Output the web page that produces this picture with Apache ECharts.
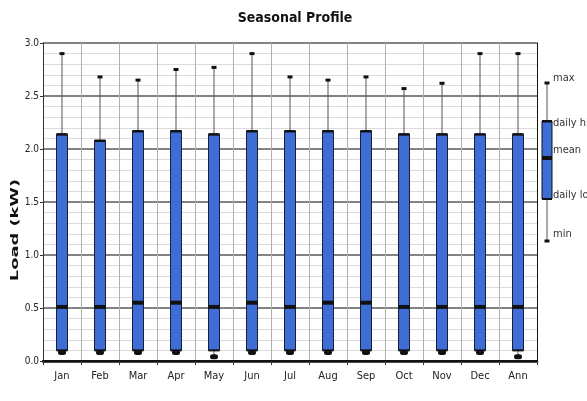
<!DOCTYPE html>
<html>
<head>
<meta charset="utf-8">
<script src="https://cdn.jsdelivr.net/npm/echarts@6/dist/echarts.min.js"></script>
<style>
  html, body { margin: 0; padding: 0; background: #fff; }
  #chart { width: 587px; height: 401px; }
</style>
</head>
<body>
<div id="chart"></div>
<script>
// seasonal load profile, kW
var months = ["Jan", "Feb", "Mar", "Apr", "May", "Jun", "Jul", "Aug", "Sep", "Oct", "Nov", "Dec", "Ann"];
var maxVals = [2.90, 2.68, 2.65, 2.75, 2.77, 2.90, 2.68, 2.65, 2.68, 2.57, 2.62, 2.90, 2.90];
var highVals = [2.14, 2.08, 2.17, 2.17, 2.14, 2.17, 2.17, 2.17, 2.17, 2.14, 2.14, 2.14, 2.14];
var meanVals = [0.51, 0.51, 0.55, 0.55, 0.51, 0.55, 0.51, 0.55, 0.55, 0.51, 0.51, 0.51, 0.51];
var lowVals = [0.10, 0.10, 0.10, 0.10, 0.10, 0.10, 0.10, 0.10, 0.10, 0.10, 0.10, 0.10, 0.10];
var minVals = [0.08, 0.08, 0.08, 0.08, 0.04, 0.08, 0.08, 0.08, 0.08, 0.08, 0.08, 0.08, 0.04];
var yTicks = [0, 0.5, 1.0, 1.5, 2.0, 2.5, 3.0];
var legendLabels = ["max", "daily high", "mean", "daily low", "min"];

var FONT = "'Liberation Sans Narrow', 'DejaVu Sans Condensed', 'Liberation Sans', sans-serif";
var BLUE = "#3f6dd6";

var boxData = months.map(function (m, i) {
  return [i, minVals[i], lowVals[i], meanVals[i], highVals[i], maxVals[i]];
});

function renderBox(params, api) {
  var idx = api.value(0);
  var x = api.coord([idx, 0])[0];
  var yMin = api.coord([idx, api.value(1)])[1];
  var yLow = api.coord([idx, api.value(2)])[1];
  var yMean = api.coord([idx, api.value(3)])[1];
  var yHigh = api.coord([idx, api.value(4)])[1];
  var yMax = api.coord([idx, api.value(5)])[1];
  var w = 11;
  return {
    type: "group",
    children: [
      { type: "line", shape: { x1: x, y1: yMax, x2: x, y2: yHigh }, style: { stroke: "#555", lineWidth: 1 } },
      { type: "line", shape: { x1: x, y1: yLow, x2: x, y2: yMin }, style: { stroke: "#555", lineWidth: 1 } },
      { type: "rect", shape: { x: x - 2.5, y: yMax - 1.5, width: 5, height: 3 }, style: { fill: "#111" } },
      { type: "rect", shape: { x: x - w / 2, y: yHigh, width: w, height: yLow - yHigh }, style: { fill: BLUE, stroke: "#1a1f3a", lineWidth: 1 } },
      { type: "rect", shape: { x: x - w / 2, y: yHigh - 1, width: w, height: 2.5 }, style: { fill: "#111" } },
      { type: "rect", shape: { x: x - w / 2, y: yMean - 2, width: w, height: 4 }, style: { fill: "#111" } },
      { type: "rect", shape: { x: x - w / 2, y: yLow - 1, width: w, height: 2 }, style: { fill: "#111" } },
      { type: "rect", shape: { x: x - 4, y: yMin - 2.5, width: 8, height: 5, r: 2.5 }, style: { fill: "#111" } }
    ]
  };
}

// legend sample drawn at the right edge
var lgX = 547;
var lgY = [83, 121, 158, 199, 241];
var lgText = [78, 123, 150, 195, 234];
var legendGraphics = [
  { type: "line", shape: { x1: lgX, y1: lgY[0], x2: lgX, y2: lgY[4] }, style: { stroke: "#555", lineWidth: 1 } },
  { type: "rect", shape: { x: lgX - 2.5, y: lgY[0] - 1.5, width: 5, height: 3 }, style: { fill: "#111" } },
  { type: "rect", shape: { x: lgX - 2.5, y: lgY[4] - 1.5, width: 5, height: 3 }, style: { fill: "#111" } },
  { type: "rect", shape: { x: lgX - 5, y: lgY[1], width: 10, height: lgY[3] - lgY[1] }, style: { fill: BLUE, stroke: "#111", lineWidth: 1 } },
  { type: "rect", shape: { x: lgX - 5, y: lgY[1] - 1, width: 10, height: 2.5 }, style: { fill: "#111" } },
  { type: "rect", shape: { x: lgX - 5, y: lgY[2] - 2, width: 10, height: 4 }, style: { fill: "#111" } },
  { type: "rect", shape: { x: lgX - 5, y: lgY[3] - 1, width: 10, height: 2 }, style: { fill: "#111" } }
];
legendLabels.forEach(function (t, i) {
  legendGraphics.push({
    type: "text", x: 553, y: lgText[i],
    style: { text: t, fill: "#333", font: "11px " + FONT, verticalAlign: "middle", align: "left" }
  });
});

var chart = echarts.init(document.getElementById("chart"));
chart.setOption({
  animation: false,
  title: {
    text: "Seasonal Profile",
    left: 290,
    textAlign: "center",
    top: 6,
    textStyle: { fontFamily: FONT, fontSize: 14, fontWeight: "bold", color: "#111" }
  },
  grid: { left: 43, right: 50, top: 43, bottom: 40 },
  xAxis: [{
    type: "category",
    data: months,
    boundaryGap: true,
    axisLine: { lineStyle: { color: "#111", width: 2 } },
    axisTick: { show: true, length: 4, lineStyle: { color: "#333" } },
    axisLabel: { fontFamily: FONT, fontSize: 11, color: "#222", margin: 10 },
    splitLine: { show: true, interval: 0, lineStyle: { color: "#b0b0b0", width: 1 } }
  }, {
    type: "category",
    data: months,
    position: "top",
    axisLine: { lineStyle: { color: "#111", width: 2.5 } },
    axisTick: { show: false },
    axisLabel: { show: false }
  }],
  yAxis: [{
    type: "value",
    min: 0,
    max: 3,
    interval: 0.5,
    axisLine: { show: true, lineStyle: { color: "#333", width: 1 } },
    axisTick: { show: true, length: 3, lineStyle: { color: "#333" } },
    axisLabel: {
      fontFamily: FONT, fontSize: 10, color: "#222", margin: 4,
      formatter: function (v) { return yTicks.indexOf(v) >= 0 ? v.toFixed(1) : ""; }
    },
    splitLine: { show: true, lineStyle: { color: "#5a5a5a", width: 1.5 } },
    minorTick: { show: false, splitNumber: 5 },
    minorSplitLine: { show: true, lineStyle: { color: "#dcdcdc", width: 1 } }
  }, {
    type: "value",
    min: 0,
    max: 3,
    position: "right",
    axisLine: { show: true, lineStyle: { color: "#111", width: 1 } },
    axisTick: { show: false },
    axisLabel: { show: false },
    splitLine: { show: false }
  }],
  graphic: [{
    type: "text",
    x: 15,
    y: 230,
    rotation: Math.PI / 2,
    scaleX: 1.8,
    style: { text: "Load (kW)", fill: "#111", font: "bold 11px " + FONT, align: "center", verticalAlign: "middle" }
  }].concat(legendGraphics),
  series: [{
    type: "custom",
    renderItem: renderBox,
    encode: { x: 0, y: [1, 2, 3, 4, 5] },
    data: boxData,
    z: 5
  }]
});
</script>
</body>
</html>
